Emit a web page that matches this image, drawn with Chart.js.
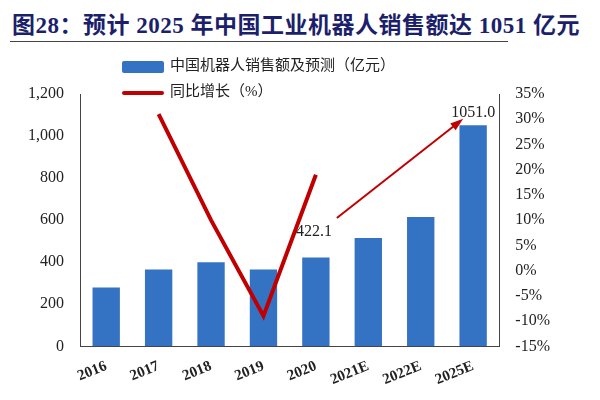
<!DOCTYPE html>
<html><head><meta charset="utf-8">
<script src="https://cdn.jsdelivr.net/npm/chart.js@4"></script>
<style>
body{margin:0;background:#fff;font-family:"Liberation Serif","Noto Sans CJK SC",serif;}
#title{position:absolute;left:12px;top:6px;font-size:23px;font-weight:bold;color:#1c1f6b;letter-spacing:0.5px;}
#rule{position:absolute;left:10px;top:41px;width:498px;height:1px;background:#444;}
#wrap{position:absolute;left:0;top:44px;width:600px;height:356px;}
#legend{position:absolute;left:122px;top:52px;font-size:15px;color:#222;line-height:26px;}
.sw{display:inline-block;width:42px;vertical-align:middle;margin-right:6px;border-radius:2px;}
</style></head><body>
<div id="title">图28：预计 2025 年中国工业机器人销售额达 1051 亿元</div>
<div id="rule"></div>
<div id="wrap"><canvas id="c"></canvas></div>
<div id="legend">
<div><span class="sw" style="height:12px;background:#3473c4"></span>中国机器人销售额及预测（亿元）</div>
<div><span class="sw" style="height:4px;background:#c00000"></span>同比增长（%）</div>
</div>
<script>
const years = ['2016','2017','2018','2019','2020','2021E','2022E','2025E'];
const sales = [280, 365, 400, 365, 422.1, 515, 615, 1051];
const growth = [null, 31, 10, -9, 19, null, null, null];

const annot = {
  id: 'annot',
  afterDatasetsDraw(chart) {
    const {ctx, scales: {x, y}} = chart;
    ctx.save();
    ctx.font = '16px "Liberation Serif", serif';
    ctx.fillStyle = '#222';
    ctx.textAlign = 'center';
    ctx.fillText('422.1', x.getPixelForValue(4) - 2, y.getPixelForValue(422.1) - 22);
    ctx.fillText('1051.0', x.getPixelForValue(7), y.getPixelForValue(1051) - 8);
    const x0 = x.getPixelForValue(4.4), y0 = y.getPixelForValue(610);
    const x1 = x.getPixelForValue(6.75), y1 = y.getPixelForValue(1070);
    ctx.strokeStyle = '#c00000'; ctx.fillStyle = '#c00000'; ctx.lineWidth = 2;
    ctx.beginPath(); ctx.moveTo(x0, y0); ctx.lineTo(x1, y1); ctx.stroke();
    const a = Math.atan2(y1 - y0, x1 - x0);
    ctx.beginPath();
    ctx.moveTo(x1 + 4 * Math.cos(a), y1 + 4 * Math.sin(a));
    ctx.lineTo(x1 - 10 * Math.cos(a - 0.45), y1 - 10 * Math.sin(a - 0.45));
    ctx.lineTo(x1 - 10 * Math.cos(a + 0.45), y1 - 10 * Math.sin(a + 0.45));
    ctx.closePath(); ctx.fill();
    ctx.restore();
  }
};

new Chart(document.getElementById('c'), {
  data: {
    labels: years,
    datasets: [
      { type: 'line', data: growth, yAxisID: 'y1', borderColor: '#c00000', borderWidth: 4,
        pointRadius: 0, tension: 0, spanGaps: false, order: 0 },
      { type: 'bar', data: sales, yAxisID: 'y', backgroundColor: '#3473c4',
        categoryPercentage: 0.9, barPercentage: 0.58, order: 1 }
    ]
  },
  options: {
    responsive: true, maintainAspectRatio: false, animation: false,
    layout: { padding: { top: 50, left: 20, right: 42, bottom: 8 } },
    plugins: { legend: { display: false }, tooltip: { enabled: false } },
    scales: {
      x: { grid: { display: false }, border: { color: '#444' },
        ticks: { color: '#222', maxRotation: 22, minRotation: 22,
          font: { family: '"Liberation Serif", serif', size: 15, weight: 'bold' } } },
      y: { min: 0, max: 1200, grid: { display: false }, border: { color: '#444' },
        ticks: { stepSize: 200, color: '#222', padding: 8,
          callback: v => v.toLocaleString('en-US'),
          font: { family: '"Liberation Serif", serif', size: 16 } } },
      y1: { position: 'right', min: -15, max: 35, grid: { display: false }, border: { color: '#444' },
        ticks: { stepSize: 5, color: '#222', padding: 8, callback: v => v + '%',
          font: { family: '"Liberation Serif", serif', size: 16 } } }
    }
  },
  plugins: [annot]
});
</script>
</body></html>
